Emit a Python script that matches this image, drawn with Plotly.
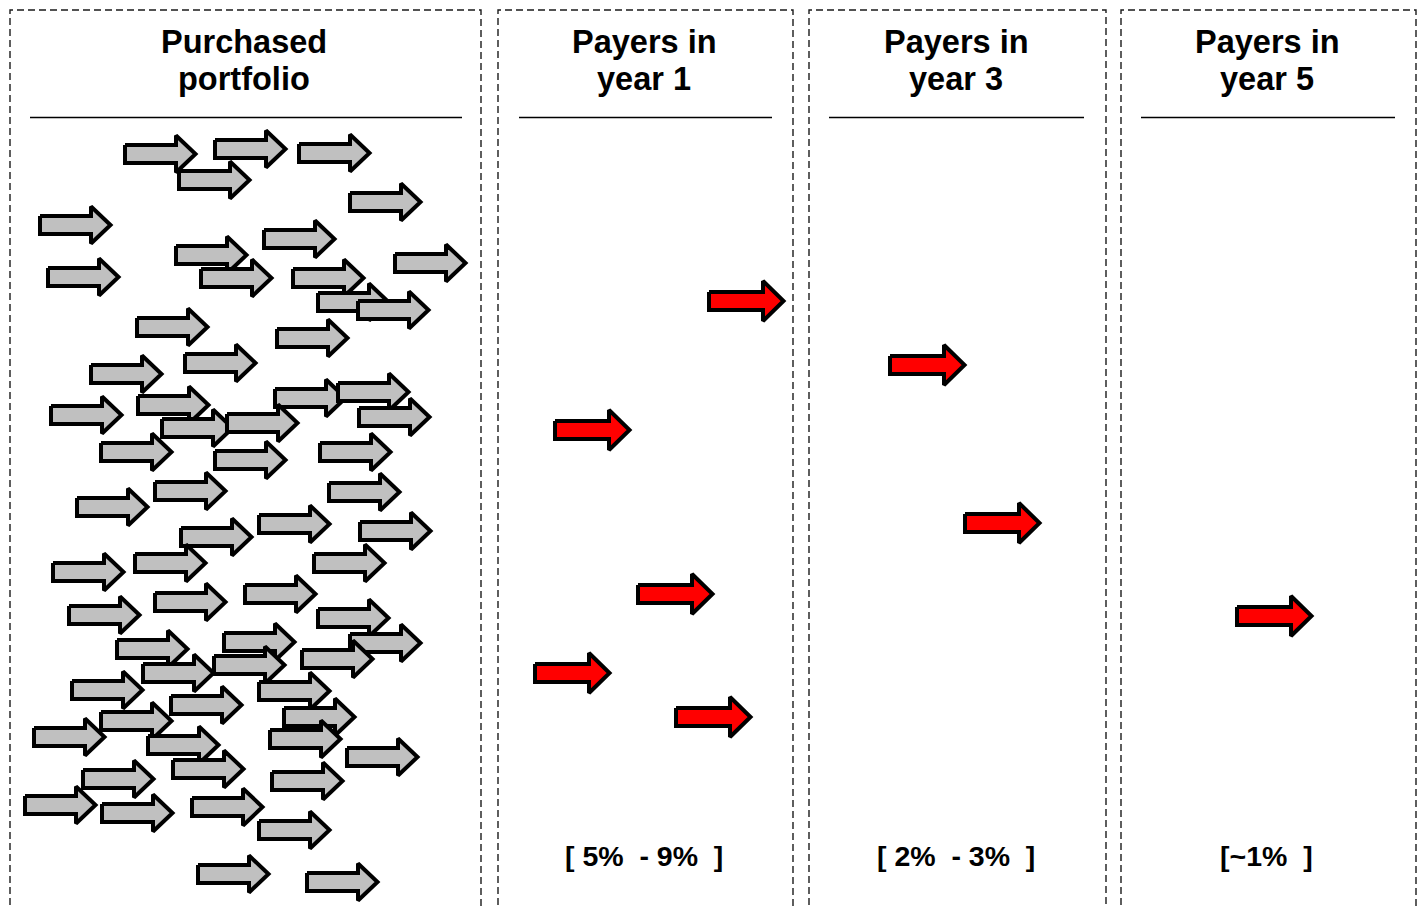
import plotly.graph_objects as go

# ---- data -------------------------------------------------------------
panel_titles = [
    ["Purchased", "portfolio"],
    ["Payers in", "year 1"],
    ["Payers in", "year 3"],
    ["Payers in", "year 5"],
]
panel_left = [10, 498, 809, 1121]
panel_right = [481, 793, 1106, 1416]
rule_left = [30, 519, 829, 1141]
rule_right = [462, 772, 1084, 1395]

rate_labels = ["[ 5%\u00a0 - 9%\u00a0 ]", "[ 2%\u00a0 - 3%\u00a0 ]", "[~1%\u00a0 ]"]

# each arrow: left edge (x) and vertical middle (y)
portfolio_x = [123, 213, 177, 297, 348, 38, 262, 174, 46, 393, 199, 291, 316, 356,
               135, 275, 89, 183, 49, 136, 273, 336, 357, 160, 225, 99, 213, 318,
               153, 327, 75, 179, 257, 358, 51, 133, 312, 153, 243, 67, 316, 115,
               222, 348, 300, 141, 212, 70, 257, 169, 99, 282, 32, 146, 268, 345,
               171, 81, 270, 23, 100, 190, 257, 196, 305]
portfolio_y = [154, 149, 180, 153, 202, 225, 239, 255, 277, 263, 278, 278, 302, 310,
               327, 338, 374, 363, 415, 405, 398, 392, 417, 428, 423, 452, 460, 452,
               491, 492, 507, 537, 524, 531, 572, 563, 563, 602, 594, 615, 618, 649,
               642, 643, 659, 673, 665, 690, 691, 705, 721, 717, 737, 745, 739, 757,
               769, 779, 781, 805, 813, 807, 830, 874, 882]

year1_x = [707, 553, 636, 533, 674]
year1_y = [301, 430, 594, 673, 717]
year3_x = [888, 963]
year3_y = [365, 523]
year5_x = [1235]
year5_y = [616]

# ---- styling ----------------------------------------------------------
W, H = 1422, 907
OUTLINE = 4
GREY = "#c0c0c0"
RED = "#ff0000"
FONT = "Liberation Sans, Arial, sans-serif"
# (length, head start, shaft half-height, head half-height) on the stroke centre line
GREY_SHAPE = (72.5, 53, 9, 18.5)
RED_SHAPE = (76.5, 56, 9, 20)

fig = go.Figure()


def add_arrow(x0, yc, fill, shape):
    length, head_start, shaft_half, head_half = shape
    inset = OUTLINE / 2
    xs = [x0 + inset, x0 + head_start, x0 + head_start, x0 + length,
          x0 + head_start, x0 + head_start, x0 + inset, x0 + inset]
    ys = [yc - shaft_half, yc - shaft_half, yc - head_half, yc,
          yc + head_half, yc + shaft_half, yc + shaft_half, yc - shaft_half]
    fig.add_trace(go.Scatter(
        x=xs, y=ys, mode="lines", fill="toself", fillcolor=fill,
        line=dict(color="black", width=OUTLINE), hoverinfo="skip", showlegend=False,
    ))


for x0, yc in zip(portfolio_x, portfolio_y):
    add_arrow(x0, yc, GREY, GREY_SHAPE)
for xs_, ys_ in [(year1_x, year1_y), (year3_x, year3_y), (year5_x, year5_y)]:
    for x0, yc in zip(xs_, ys_):
        add_arrow(x0, yc, RED, RED_SHAPE)

shapes = []
annotations = []
for i, (l, r) in enumerate(zip(panel_left, panel_right)):
    # dashed frame, open at the bottom
    shapes.append(dict(
        type="path", xref="x", yref="y",
        path=f"M {l} {H + 20} L {l} 10 L {r} 10 L {r} {H + 20}",
        line=dict(color="#1a1a1a", width=1.4, dash="7px,4px"),
    ))
    shapes.append(dict(
        type="line", xref="x", yref="y",
        x0=rule_left[i], x1=rule_right[i], y0=117.5, y1=117.5,
        line=dict(color="black", width=1.5),
    ))
    cx = (l + r) / 2 - 1.5
    for j, line_text in enumerate(panel_titles[i]):
        annotations.append(dict(
            x=cx, y=42 + 37 * j, xref="x", yref="y", text=f"<b>{line_text}</b>",
            showarrow=False, xanchor="center", yanchor="middle",
            font=dict(family=FONT, size=32.5, color="black"),
        ))

for i, lab in enumerate(rate_labels):
    l, r = panel_left[i + 1], panel_right[i + 1]
    annotations.append(dict(
        x=(l + r) / 2 - 2, y=856, xref="x", yref="y", text=f"<b>{lab}</b>",
        showarrow=False, xanchor="center", yanchor="middle",
        font=dict(family=FONT, size=28.5, color="black"),
    ))

fig.update_layout(
    width=W, height=H,
    margin=dict(l=0, r=0, t=0, b=0),
    paper_bgcolor="white", plot_bgcolor="white",
    xaxis=dict(range=[0, W], visible=False, fixedrange=True),
    yaxis=dict(range=[H, 0], visible=False, fixedrange=True),
    shapes=shapes, annotations=annotations,
)

fig.write_html("out.html", config={"displayModeBar": False})
